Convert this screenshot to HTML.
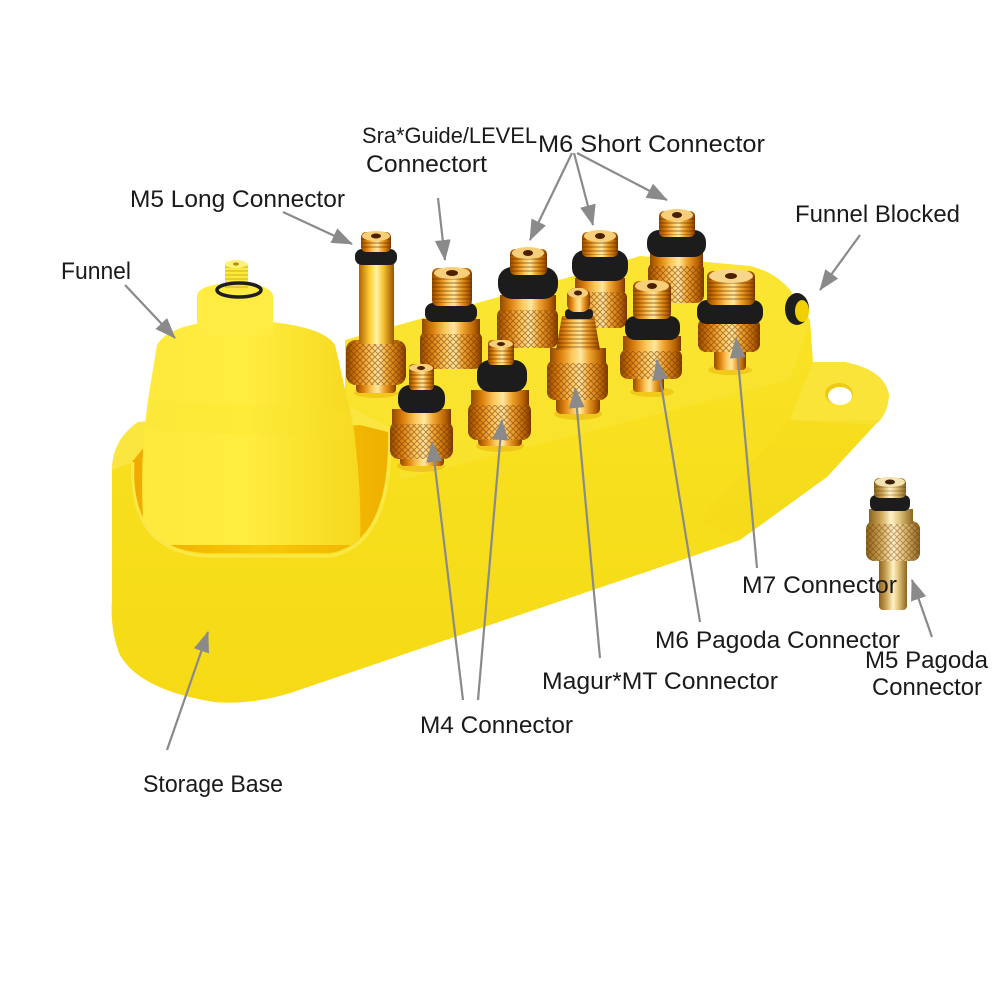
<!DOCTYPE html>
<html><head><meta charset="utf-8"><style>
html,body{margin:0;padding:0;background:#fff;}
svg{display:block;}
text{font-family:"Liberation Sans",sans-serif;font-size:24px;fill:#1a1a1a;}
</style></head><body>
<svg width="1002" height="1002" viewBox="0 0 1002 1002" xmlns="http://www.w3.org/2000/svg">
<defs>
<linearGradient id="gold" x1="0" y1="0" x2="1" y2="0">
<stop offset="0" stop-color="#8f4a00"/><stop offset="0.18" stop-color="#d97c0a"/><stop offset="0.4" stop-color="#ffc95e"/><stop offset="0.55" stop-color="#ffe7a0"/><stop offset="0.7" stop-color="#f0a530"/><stop offset="0.9" stop-color="#b86200"/><stop offset="1" stop-color="#7a3800"/>
</linearGradient>
<linearGradient id="shaft" x1="0" y1="0" x2="1" y2="0">
<stop offset="0" stop-color="#b06400"/><stop offset="0.3" stop-color="#ffcc33"/><stop offset="0.5" stop-color="#fff3a0"/><stop offset="0.7" stop-color="#f5c030"/><stop offset="1" stop-color="#9a5200"/>
</linearGradient>
<linearGradient id="brass" x1="0" y1="0" x2="1" y2="0">
<stop offset="0" stop-color="#8a6420"/><stop offset="0.25" stop-color="#c9a050"/><stop offset="0.5" stop-color="#fff2c8"/><stop offset="0.7" stop-color="#e0c27a"/><stop offset="1" stop-color="#8a6420"/>
</linearGradient>
<linearGradient id="funnel" x1="0" y1="0" x2="1" y2="0">
<stop offset="0" stop-color="#fdea3c"/><stop offset="0.5" stop-color="#ffec3e"/><stop offset="1" stop-color="#f6d81e"/>
</linearGradient>
<linearGradient id="inner" x1="0" y1="0" x2="1" y2="0">
<stop offset="0" stop-color="#f0aa00"/><stop offset="0.5" stop-color="#f7c80a"/><stop offset="1" stop-color="#f0b000"/>
</linearGradient>
<linearGradient id="basefill" gradientUnits="userSpaceOnUse" x1="0" y1="250" x2="0" y2="710">
<stop offset="0" stop-color="#fae428"/><stop offset="1" stop-color="#f5da14"/>
</linearGradient>
<pattern id="kn" width="6" height="6" patternUnits="userSpaceOnUse">
<path d="M0,0 L6,6 M6,0 L0,6" stroke="rgba(110,45,0,0.5)" stroke-width="1"/>
</pattern>
<pattern id="th" width="4" height="4" patternUnits="userSpaceOnUse">
<line x1="0" y1="3" x2="4" y2="3" stroke="rgba(90,40,0,0.5)" stroke-width="1.2"/>
</pattern>
<clipPath id="baseclip">
<path d="M112 600 L112 470 Q112 440 138 422 L345 405 L345 340 L570 277 L640 256 L750 266 Q775 272 790 290 L810 320 L813 362 L845 362 Q885 370 889 395 Q888 415 875 425 L827 477 L740 540 L290 693 Q250 705 215 702 Q140 690 120 655 Q110 630 112 600 Z"/>
</clipPath>
<marker id="ah" markerUnits="userSpaceOnUse" markerWidth="22" markerHeight="16" refX="20" refY="8" orient="auto">
<path d="M0,0 L21,8 L0,16 Z" fill="#8a8a8a"/>
</marker>
</defs>

<!-- base -->
<path d="M112 600 L112 470 Q112 440 138 422 L345 405 L345 340 L570 277 L640 256 L750 266 Q775 272 790 290 L810 320 L813 362 L845 362 Q885 370 889 395 Q888 415 875 425 L827 477 L740 540 L290 693 Q250 705 215 702 Q140 690 120 655 Q110 630 112 600 Z" fill="url(#basefill)"/>
<g clip-path="url(#baseclip)">
<path d="M345 340 L570 277 L640 256 L750 266 Q775 272 790 290 L810 320 L790 380 L400 480 L345 470 Z" fill="#fbe845" opacity="0.35"/>
<path d="M813 362 L845 362 Q885 370 889 395 Q888 415 875 425 L790 420 Z" fill="#fbe850" opacity="0.5"/>
<path d="M790 420 L880 420 L827 477 L740 540 L700 520 Z" fill="#f2d414" opacity="0.2"/>
<path d="M112 470 Q112 440 138 422 L345 405 L395 430 L395 470 L112 480 Z" fill="#fbe640"/>
</g>
<!-- tab hole -->
<ellipse cx="839" cy="394" rx="14" ry="11" fill="#eccb10"/>
<ellipse cx="840" cy="396" rx="12" ry="9" fill="#ffffff"/>

<!-- cup interior -->
<path d="M132 462 Q128 548 205 553 L330 553 Q390 542 388 432 L360 425 L150 440 Z" fill="url(#inner)"/>

<!-- funnel -->
<path d="M145 545 Q138 470 148 400 L157 345 Q170 322 235 320 Q320 322 335 345 L352 420 Q362 480 360 545 Z" fill="url(#funnel)"/>
<path d="M150 400 L352 410 L356 440 L146 430 Z" fill="#f8e22c" opacity="0.25"/>
<path d="M197 334 L197 296 Q198 284 235 283 Q272 284 273 296 L273 334 Q235 342 197 334 Z" fill="#feec42"/>
<rect x="225" y="262" width="23" height="30" rx="4" fill="#fde93a"/>
<rect x="225" y="266" width="23" height="24" fill="url(#th)" opacity="0.5"/>
<ellipse cx="236" cy="264" rx="11" ry="4" fill="#fff27a"/>
<ellipse cx="236" cy="264" rx="3" ry="1.6" fill="#b89000"/>
<ellipse cx="239" cy="290" rx="22" ry="7" fill="none" stroke="#1e1e1e" stroke-width="3.5"/>

<!-- cup front rim over funnel -->
<path d="M112 600 L112 470 L133 462 Q128 550 205 556 L330 556 Q392 545 390 432 L400 432 L400 720 L100 720 Z" fill="url(#basefill)" clip-path="url(#baseclip)"/>
<path d="M133 462 Q128 550 205 556 L330 556 Q392 545 390 432" fill="none" stroke="#fbe848" stroke-width="3"/>

<!-- funnel blocked plug -->
<ellipse cx="797" cy="309" rx="12" ry="16" fill="#1e1e1e"/>
<ellipse cx="802" cy="311" rx="7" ry="11" fill="#f2d000"/>

<!-- connector shadows -->
<g fill="#e7a800" opacity="0.45">
<ellipse cx="421" cy="466" rx="24" ry="6"/><ellipse cx="500" cy="446" rx="24" ry="6"/><ellipse cx="578" cy="414" rx="24" ry="6"/>
<ellipse cx="652" cy="392" rx="22" ry="5"/><ellipse cx="730" cy="370" rx="22" ry="5"/><ellipse cx="376" cy="393" rx="22" ry="5"/>
</g>

<!-- M6 short #3 -->
<g>
<rect x="648" y="262" width="56" height="41" rx="8" fill="url(#gold)"/><rect x="648" y="262" width="56" height="41" rx="8" fill="url(#kn)"/>
<rect x="650" y="252" width="53" height="14" fill="url(#gold)"/>
<rect x="647" y="230" width="59" height="27" rx="12" fill="#1c1c1c"/>
<rect x="659" y="211" width="36" height="26" rx="5" fill="url(#gold)"/><rect x="659" y="217" width="36" height="18" fill="url(#th)"/>
<ellipse cx="677" cy="215" rx="16" ry="6" fill="#f7cf7a"/><ellipse cx="677" cy="215" rx="5" ry="3" fill="#4a2000"/>
</g>
<!-- M6 short #2 -->
<g>
<rect x="573" y="290" width="54" height="38" rx="8" fill="url(#gold)"/><rect x="573" y="290" width="54" height="38" rx="8" fill="url(#kn)"/>
<rect x="575" y="278" width="50" height="14" fill="url(#gold)"/>
<rect x="572" y="250" width="56" height="31" rx="13" fill="#1c1c1c"/>
<rect x="582" y="232" width="36" height="25" rx="5" fill="url(#gold)"/><rect x="582" y="238" width="36" height="17" fill="url(#th)"/>
<ellipse cx="600" cy="236" rx="16" ry="6" fill="#f7cf7a"/><ellipse cx="600" cy="236" rx="5" ry="3" fill="#4a2000"/>
</g>
<!-- M6 short #1 -->
<g>
<rect x="497" y="308" width="61" height="40" rx="8" fill="url(#gold)"/><rect x="497" y="308" width="61" height="40" rx="8" fill="url(#kn)"/>
<rect x="500" y="295" width="56" height="15" fill="url(#gold)"/>
<rect x="498" y="267" width="60" height="32" rx="14" fill="#1c1c1c"/>
<rect x="510" y="249" width="37" height="26" rx="5" fill="url(#gold)"/><rect x="510" y="255" width="37" height="18" fill="url(#th)"/>
<ellipse cx="528" cy="253" rx="16" ry="6" fill="#f7cf7a"/><ellipse cx="528" cy="253" rx="5" ry="3" fill="#4a2000"/>
</g>
<!-- Sra guide -->
<g>
<rect x="420" y="331" width="62" height="38" rx="8" fill="url(#gold)"/><rect x="420" y="331" width="62" height="38" rx="8" fill="url(#kn)"/>
<rect x="422" y="319" width="58" height="15" fill="url(#gold)"/>
<rect x="425" y="303" width="52" height="19" rx="8" fill="#1c1c1c"/>
<rect x="432" y="268" width="40" height="38" rx="6" fill="url(#gold)"/><rect x="432" y="276" width="40" height="27" fill="url(#th)"/>
<ellipse cx="452" cy="273" rx="18" ry="6" fill="#f7cf7a"/><ellipse cx="452" cy="273" rx="6" ry="3" fill="#4a2000"/>
</g>
<!-- M7 -->
<g>
<rect x="714" y="348" width="32" height="22" rx="4" fill="url(#gold)"/>
<rect x="698" y="318" width="62" height="34" rx="8" fill="url(#gold)"/><rect x="698" y="318" width="62" height="34" rx="8" fill="url(#kn)"/>
<rect x="697" y="300" width="66" height="24" rx="10" fill="#1c1c1c"/>
<rect x="707" y="271" width="48" height="34" rx="6" fill="url(#gold)"/><rect x="707" y="279" width="48" height="22" fill="url(#th)"/>
<ellipse cx="731" cy="276" rx="22" ry="7" fill="#f7d58a"/><ellipse cx="731" cy="276" rx="6" ry="3" fill="#4a2000"/>
</g>
<!-- M5 long -->
<g>
<rect x="356" y="380" width="40" height="13" rx="4" fill="url(#gold)"/>
<rect x="346" y="340" width="60" height="45" rx="10" fill="url(#gold)"/><rect x="346" y="340" width="60" height="45" rx="10" fill="url(#kn)"/>
<rect x="359" y="262" width="35" height="82" fill="url(#shaft)"/>
<rect x="355" y="249" width="42" height="16" rx="7" fill="#1c1c1c"/>
<rect x="361" y="232" width="30" height="20" rx="5" fill="url(#gold)"/><rect x="361" y="238" width="30" height="12" fill="url(#th)"/>
<ellipse cx="376" cy="236" rx="14" ry="5" fill="#f7cf7a"/><ellipse cx="376" cy="236" rx="5" ry="2.5" fill="#4a2000"/>
</g>
<!-- M6 pagoda -->
<g>
<rect x="633" y="375" width="31" height="17" rx="4" fill="url(#gold)"/>
<rect x="620" y="349" width="62" height="30" rx="8" fill="url(#gold)"/><rect x="620" y="349" width="62" height="30" rx="8" fill="url(#kn)"/>
<rect x="623" y="336" width="58" height="15" fill="url(#gold)"/>
<rect x="625" y="316" width="55" height="24" rx="10" fill="#1c1c1c"/>
<rect x="633" y="281" width="38" height="38" rx="6" fill="url(#gold)"/><rect x="633" y="289" width="38" height="27" fill="url(#th)"/>
<ellipse cx="652" cy="286" rx="17" ry="6" fill="#f7cf7a"/><ellipse cx="652" cy="286" rx="5" ry="3" fill="#4a2000"/>
</g>
<!-- Magura -->
<g>
<rect x="556" y="396" width="44" height="18" rx="5" fill="url(#gold)"/>
<rect x="547" y="360" width="61" height="40" rx="8" fill="url(#gold)"/><rect x="547" y="360" width="61" height="40" rx="8" fill="url(#kn)"/>
<rect x="550" y="348" width="56" height="15" fill="url(#gold)"/>
<polygon points="562,316 594,316 600,350 556,350" fill="url(#gold)"/><polygon points="562,316 594,316 600,350 556,350" fill="url(#th)"/>
<rect x="565" y="309" width="28" height="10" rx="4" fill="#1c1c1c"/>
<rect x="567" y="288" width="23" height="24" rx="8" fill="url(#gold)"/>
<ellipse cx="578" cy="293" rx="10" ry="5" fill="#f7cf7a"/><ellipse cx="578" cy="293" rx="4" ry="2.5" fill="#4a2000"/>
</g>
<!-- M4 #2 -->
<g>
<rect x="478" y="436" width="44" height="10" rx="4" fill="url(#gold)"/>
<rect x="468" y="402" width="63" height="38" rx="9" fill="url(#gold)"/><rect x="468" y="402" width="63" height="38" rx="9" fill="url(#kn)"/>
<rect x="471" y="390" width="58" height="15" fill="url(#gold)"/>
<rect x="477" y="360" width="50" height="32" rx="13" fill="#1c1c1c"/>
<rect x="488" y="340" width="26" height="25" rx="4" fill="url(#gold)"/><rect x="488" y="346" width="26" height="17" fill="url(#th)"/>
<ellipse cx="501" cy="344" rx="12" ry="4" fill="#f7cf7a"/><ellipse cx="501" cy="344" rx="4" ry="2" fill="#4a2000"/>
</g>
<!-- M4 #1 -->
<g>
<rect x="400" y="455" width="44" height="11" rx="4" fill="url(#gold)"/>
<rect x="390" y="421" width="63" height="38" rx="9" fill="url(#gold)"/><rect x="390" y="421" width="63" height="38" rx="9" fill="url(#kn)"/>
<rect x="392" y="409" width="59" height="15" fill="url(#gold)"/>
<rect x="398" y="385" width="47" height="28" rx="12" fill="#1c1c1c"/>
<rect x="409" y="364" width="25" height="26" rx="4" fill="url(#gold)"/><rect x="409" y="370" width="25" height="18" fill="url(#th)"/>
<ellipse cx="421" cy="368" rx="12" ry="4" fill="#f7cf7a"/><ellipse cx="421" cy="368" rx="4" ry="2" fill="#4a2000"/>
</g>
<!-- loose M5 pagoda -->
<g>
<rect x="879" y="556" width="28" height="54" rx="4" fill="url(#brass)"/>
<rect x="866" y="521" width="54" height="40" rx="8" fill="url(#brass)"/><rect x="866" y="521" width="54" height="40" rx="8" fill="url(#kn)" opacity="0.8"/>
<rect x="869" y="509" width="44" height="15" fill="url(#brass)"/>
<rect x="870" y="495" width="40" height="16" rx="6" fill="#1c1c1c"/>
<rect x="874" y="478" width="32" height="20" rx="5" fill="url(#brass)"/><rect x="874" y="483" width="32" height="13" fill="url(#th)" opacity="0.6"/>
<ellipse cx="890" cy="482" rx="15" ry="5" fill="#f4e2b0"/><ellipse cx="890" cy="482" rx="5" ry="2.5" fill="#3a2400"/>
</g>

<!-- arrows -->
<g stroke="#8a8a8a" stroke-width="2.2" fill="none" marker-end="url(#ah)">
<line x1="125" y1="285" x2="175" y2="338"/>
<line x1="283" y1="212" x2="352" y2="244"/>
<line x1="438" y1="198" x2="445" y2="260"/>
<line x1="572" y1="153" x2="530" y2="240"/>
<line x1="574" y1="153" x2="593" y2="225"/>
<line x1="577" y1="153" x2="667" y2="200"/>
<line x1="860" y1="235" x2="820" y2="290"/>
<line x1="757" y1="568" x2="736" y2="338"/>
<line x1="700" y1="622" x2="657" y2="360"/>
<line x1="600" y1="658" x2="575" y2="388"/>
<line x1="463" y1="700" x2="432" y2="442"/>
<line x1="478" y1="700" x2="502" y2="420"/>
<line x1="167" y1="750" x2="208" y2="632"/>
<line x1="932" y1="637" x2="912" y2="580"/>
</g>

<!-- labels -->
<text x="362" y="143" font-size="22" style="font-size:22px" textLength="175" lengthAdjust="spacingAndGlyphs">Sra*Guide/LEVEL</text>
<text x="366" y="172" textLength="121" lengthAdjust="spacingAndGlyphs">Connectort</text>
<text x="538" y="152" textLength="227" lengthAdjust="spacingAndGlyphs">M6 Short Connector</text>
<text x="130" y="207" textLength="215" lengthAdjust="spacingAndGlyphs">M5 Long Connector</text>
<text x="795" y="222" textLength="165" lengthAdjust="spacingAndGlyphs">Funnel Blocked</text>
<text x="61" y="279" textLength="70" lengthAdjust="spacingAndGlyphs">Funnel</text>
<text x="742" y="593" textLength="155" lengthAdjust="spacingAndGlyphs">M7 Connector</text>
<text x="655" y="648" textLength="245" lengthAdjust="spacingAndGlyphs">M6 Pagoda Connector</text>
<text x="865" y="668" textLength="123" lengthAdjust="spacingAndGlyphs">M5 Pagoda</text>
<text x="872" y="695" textLength="110" lengthAdjust="spacingAndGlyphs">Connector</text>
<text x="542" y="689" textLength="236" lengthAdjust="spacingAndGlyphs">Magur*MT Connector</text>
<text x="420" y="733" textLength="153" lengthAdjust="spacingAndGlyphs">M4 Connector</text>
<text x="143" y="792" textLength="140" lengthAdjust="spacingAndGlyphs">Storage Base</text>
</svg>
</body></html>
